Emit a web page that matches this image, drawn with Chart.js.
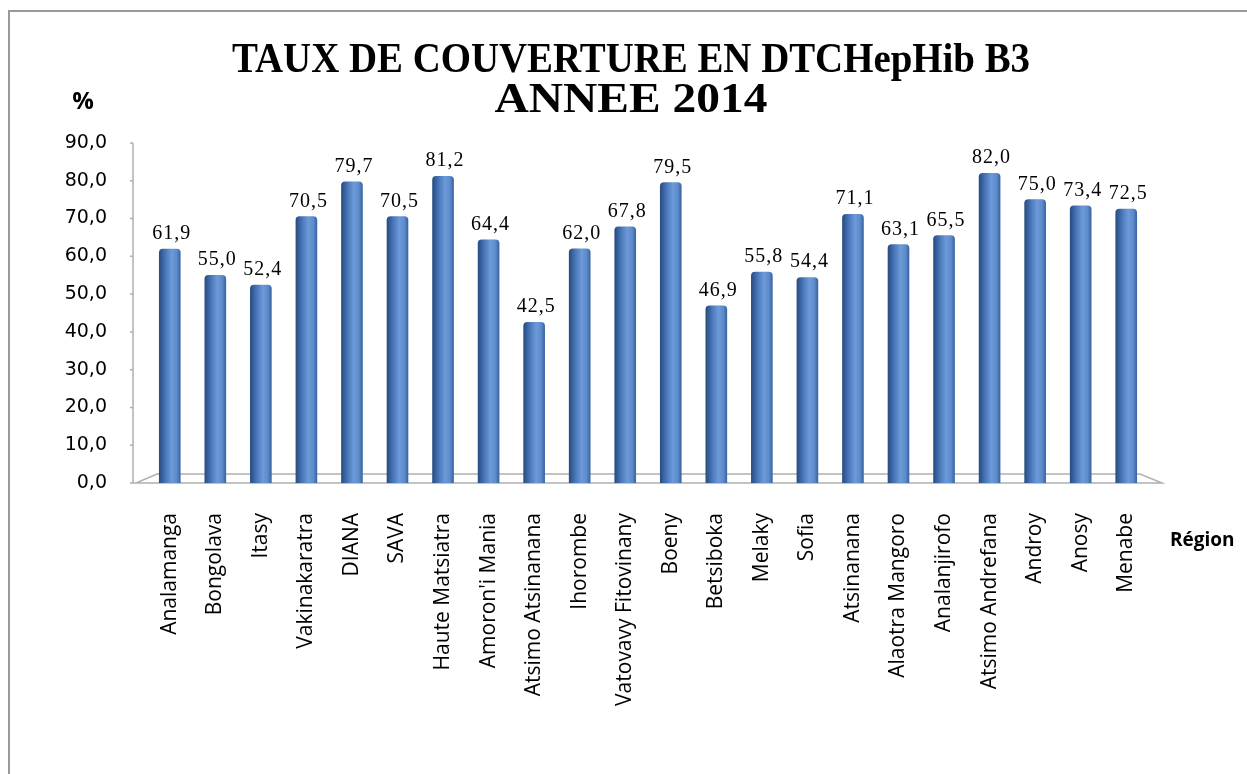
<!DOCTYPE html>
<html lang="fr">
<head>
    <meta charset="UTF-8">
    <title>Taux de couverture en DTCHepHib B3 - 2014</title>
    <style>
        body {
            margin: 0;
            background-color: #ffffff;
        }
        #wrap {
            width: 1247px;
            height: 774px;
        }
    </style>
</head>
<body>
    <div id="wrap">
        <canvas id="chart" width="1247" height="774"></canvas>
    </div>

    <script src="https://cdn.jsdelivr.net/npm/chart.js"></script>

    <script>
        // Data
        const regions = [
            'Analamanga', 'Bongolava', 'Itasy', 'Vakinakaratra', 'DIANA', 'SAVA',
            'Haute Matsiatra', "Amoron'i Mania", 'Atsimo Atsinanana', 'Ihorombe',
            'Vatovavy Fitovinany', 'Boeny', 'Betsiboka', 'Melaky', 'Sofia',
            'Atsinanana', 'Alaotra Mangoro', 'Analanjirofo', 'Atsimo Andrefana',
            'Androy', 'Anosy', 'Menabe'
        ];
        const coverage = [
            61.9, 55.0, 52.4, 70.5, 79.7, 70.5, 81.2, 64.4, 42.5, 62.0, 67.8,
            79.5, 46.9, 55.8, 54.4, 71.1, 63.1, 65.5, 82.0, 75.0, 73.4, 72.5
        ];
        const titleLines = ['TAUX DE COUVERTURE EN DTCHepHib B3', 'ANNEE 2014'];
        const yTicks = [0, 10, 20, 30, 40, 50, 60, 70, 80, 90];

        const frFormat = v => v.toFixed(1).replace('.', ',');

        // Frame, title, axis labels and the 3D-ish floor
        const decorPlugin = {
            id: 'decor',
            beforeDatasetsDraw(chart) {
                const ctx = chart.ctx;
                const area = chart.chartArea;
                const axisX = 133;
                const floorY = area.bottom;
                ctx.save();

                // outer frame
                ctx.strokeStyle = '#9a9a9a';
                ctx.lineWidth = 2;
                ctx.beginPath();
                ctx.moveTo(9, 774);
                ctx.lineTo(9, 11);
                ctx.lineTo(1247, 11);
                ctx.stroke();

                // y axis line with small ticks
                ctx.strokeStyle = '#b0b0b0';
                ctx.lineWidth = 1.5;
                ctx.beginPath();
                ctx.moveTo(axisX, floorY);
                ctx.lineTo(axisX, area.top);
                yTicks.forEach(t => {
                    const y = chart.scales.y.getPixelForValue(t);
                    ctx.moveTo(axisX - 3, y);
                    ctx.lineTo(axisX, y);
                });
                ctx.stroke();

                // floor
                ctx.beginPath();
                ctx.moveTo(axisX, floorY);
                ctx.lineTo(1162, floorY);
                ctx.lineTo(1140, floorY - 9);
                ctx.lineTo(157, floorY - 9);
                ctx.lineTo(axisX + 3, floorY);
                ctx.stroke();

                // title, drawn condensed like the original
                ctx.fillStyle = '#000';
                ctx.textAlign = 'center';
                ctx.textBaseline = 'alphabetic';
                ctx.font = 'bold 42px "Liberation Serif", "Times New Roman", serif';
                const widths = [798, 273];
                const baselines = [72, 112];
                titleLines.forEach((line, i) => {
                    const w = ctx.measureText(line).width;
                    ctx.save();
                    ctx.translate(631, baselines[i]);
                    ctx.scale(widths[i] / w, 1);
                    ctx.fillText(line, 0, 0);
                    ctx.restore();
                });

                // axis titles
                ctx.font = 'bold 24px "Open Sans", sans-serif';
                ctx.textAlign = 'center';
                ctx.textBaseline = 'middle';
                ctx.fillText('%', 83, 102);
                ctx.font = 'bold 19px "Open Sans", sans-serif';
                ctx.textAlign = 'left';
                ctx.fillText('Région', 1170, 541);
                ctx.restore();
            },
            afterDatasetsDraw(chart) {
                const ctx = chart.ctx;
                const meta = chart.getDatasetMeta(0);
                ctx.save();
                ctx.fillStyle = '#000';
                ctx.font = '20px "Liberation Serif", "Times New Roman", serif';
                ctx.letterSpacing = '1px';
                ctx.textAlign = 'center';
                ctx.textBaseline = 'alphabetic';
                meta.data.forEach((bar, i) => {
                    ctx.fillText(frFormat(coverage[i]), bar.x + 2, bar.y - 10);
                });
                ctx.restore();
            }
        };

        function barFill(context) {
            const chart = context.chart;
            if (!chart.chartArea) return '#4f81bd';
            const x = chart.scales.x.getPixelForValue(context.dataIndex);
            const g = chart.ctx.createLinearGradient(x - 10, 0, x + 10, 0);
            g.addColorStop(0, '#2b4f85');
            g.addColorStop(0.3, '#4a78bb');
            g.addColorStop(0.6, '#6d9ad8');
            g.addColorStop(0.85, '#5d8bcb');
            g.addColorStop(1, '#3e69a6');
            return g;
        }

        const ctx = document.getElementById('chart').getContext('2d');
        const chart = new Chart(ctx, {
            type: 'bar',
            data: {
                labels: regions,
                datasets: [{
                    data: coverage,
                    backgroundColor: barFill,
                    borderWidth: 0,
                    borderRadius: { topLeft: 4, topRight: 4 },
                    borderSkipped: 'bottom',
                    barThickness: 21
                }]
            },
            plugins: [decorPlugin],
            options: {
                responsive: false,
                animation: false,
                layout: {
                    padding: { top: 143, right: 98, bottom: 0, left: 0 }
                },
                plugins: {
                    legend: { display: false },
                    title: { display: false },
                    tooltip: { enabled: false }
                },
                scales: {
                    x: {
                        grid: { display: false },
                        border: { display: false },
                        ticks: {
                            autoSkip: false,
                            minRotation: 90,
                            maxRotation: 90,
                            padding: 22,
                            color: '#000',
                            font: { family: '"Open Sans", sans-serif', size: 21 }
                        },
                        afterFit(scale) { scale.height = 291; }
                    },
                    y: {
                        min: 0,
                        max: 90,
                        grid: { display: false },
                        border: { display: false },
                        afterBuildTicks(scale) {
                            scale.ticks = yTicks.map(v => ({ value: v }));
                        },
                        ticks: {
                            padding: 32,
                            color: '#000',
                            font: { family: '"DejaVu Sans", sans-serif', size: 19 },
                            callback: v => frFormat(v)
                        },
                        afterFit(scale) { scale.width = 147; }
                    }
                }
            }
        });
    </script>
</body>
</html>
